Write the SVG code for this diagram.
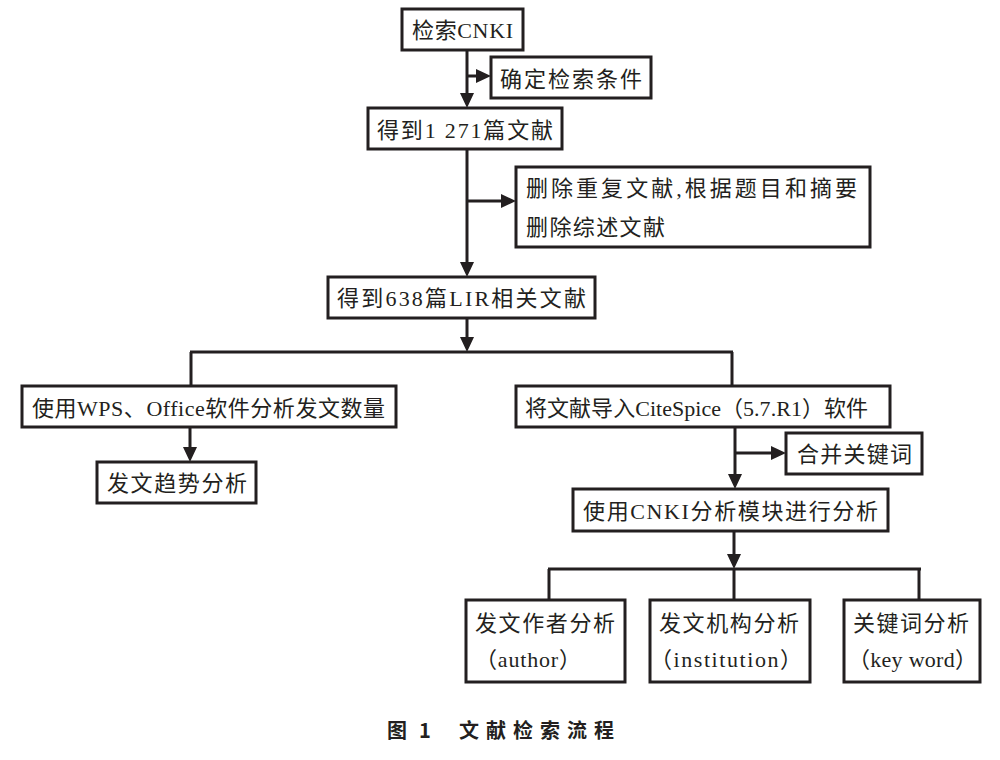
<svg xmlns="http://www.w3.org/2000/svg" width="1000" height="760" viewBox="0 0 1000 760">
<defs>
<style>
.box{fill:#fff;stroke:#231f20;stroke-width:3}
.t{font-family:"Liberation Serif","Noto Sans CJK SC",serif;font-size:22px;fill:#231f20}
.ln{fill:none;stroke:#231f20;stroke-width:3}
.arr{marker-end:url(#ah)}
.cap{font-family:"Noto Sans CJK SC","Noto Sans",sans-serif;font-size:20px;font-weight:bold;fill:#231f20;white-space:pre}
</style>
<marker id="ah" markerUnits="userSpaceOnUse" markerWidth="15" markerHeight="15" refX="10" refY="7" orient="auto" viewBox="0 0 15 15">
<path d="M0,0 L15,7 L0,14 z" fill="#231f20"/>
</marker>
</defs>
<rect width="1000" height="760" fill="#fff"/>
<g id="connectors">
<line class="ln arr" x1="467" y1="50" x2="467" y2="103"/>
<line class="ln arr" x1="467" y1="76" x2="486" y2="76"/>
<line class="ln arr" x1="467" y1="149" x2="467" y2="272"/>
<line class="ln arr" x1="467" y1="201" x2="511" y2="201"/>
<line class="ln arr" x1="467" y1="318" x2="467" y2="347"/>
<line class="ln" x1="190" y1="352" x2="733" y2="352"/>
<line class="ln" x1="191" y1="352" x2="191" y2="386"/>
<line class="ln" x1="732" y1="352" x2="732" y2="386"/>
<line class="ln arr" x1="190" y1="427" x2="190" y2="457"/>
<line class="ln arr" x1="735" y1="427" x2="735" y2="484"/>
<line class="ln arr" x1="735" y1="453" x2="781" y2="453"/>
<line class="ln arr" x1="734" y1="531" x2="734" y2="564"/>
<line class="ln" x1="548" y1="569" x2="921" y2="569"/>
<line class="ln" x1="549" y1="569" x2="549" y2="600"/>
<line class="ln" x1="734" y1="569" x2="734" y2="600"/>
<line class="ln" x1="919" y1="569" x2="919" y2="600"/>
</g>
<g id="n1"><rect class="box" x="402" y="9" width="121" height="41"/><text class="t" x="412" y="38" textLength="101" lengthAdjust="spacing">检索CNKI</text></g>
<g id="n2"><rect class="box" x="491" y="57" width="160" height="41"/><text class="t" x="500" y="87" textLength="142" lengthAdjust="spacing">确定检索条件</text></g>
<g id="n3"><rect class="box" x="368" y="108" width="194" height="41"/><text class="t" x="377" y="138" textLength="176" lengthAdjust="spacing">得到1 271篇文献</text></g>
<g id="n4"><rect class="box" x="516" y="167" width="354" height="80"/><text class="t" x="526" y="196" textLength="331" lengthAdjust="spacing">删除重复文献,根据题目和摘要</text><text class="t" x="526" y="235" textLength="139" lengthAdjust="spacing">删除综述文献</text></g>
<g id="n5"><rect class="box" x="328" y="277" width="267" height="41"/><text class="t" x="337" y="306" textLength="249" lengthAdjust="spacing">得到638篇LIR相关文献</text></g>
<g id="n6"><rect class="box" x="22" y="386" width="374" height="41"/><text class="t" x="32" y="416" textLength="353" lengthAdjust="spacing">使用WPS、Office软件分析发文数量</text></g>
<g id="n7"><rect class="box" x="97" y="462" width="159" height="41"/><text class="t" x="107" y="491" textLength="140" lengthAdjust="spacing">发文趋势分析</text></g>
<g id="n8"><rect class="box" x="516" y="386" width="374" height="41"/><text class="t" x="525" y="416" textLength="343" lengthAdjust="spacing">将文献导入CiteSpice（5.7.R1）软件</text></g>
<g id="n9"><rect class="box" x="786" y="433" width="136" height="41"/><text class="t" x="797" y="462" textLength="115" lengthAdjust="spacing">合并关键词</text></g>
<g id="n10"><rect class="box" x="573" y="489" width="315" height="42"/><text class="t" x="583" y="519" textLength="295" lengthAdjust="spacing">使用CNKI分析模块进行分析</text></g>
<g id="n11"><rect class="box" x="466" y="600" width="159" height="82"/><text class="t" x="475" y="631" textLength="140" lengthAdjust="spacing">发文作者分析</text><text class="t" x="475" y="667" textLength="106" lengthAdjust="spacing">（author）</text></g>
<g id="n12"><rect class="box" x="650" y="600" width="160" height="82"/><text class="t" x="659" y="631" textLength="140" lengthAdjust="spacing">发文机构分析</text><text class="t" x="650" y="667" textLength="152" lengthAdjust="spacing">（institution）</text></g>
<g id="n13"><rect class="box" x="844" y="600" width="136" height="82"/><text class="t" x="853" y="631" textLength="116" lengthAdjust="spacing">关键词分析</text><text class="t" x="848" y="667" textLength="129" lengthAdjust="spacing">（key word）</text></g>
<text class="cap" y="738"><tspan x="387">图 </tspan><tspan x="419">1  </tspan><tspan x="459" letter-spacing="7">文献检索流程</tspan></text>
</svg>
